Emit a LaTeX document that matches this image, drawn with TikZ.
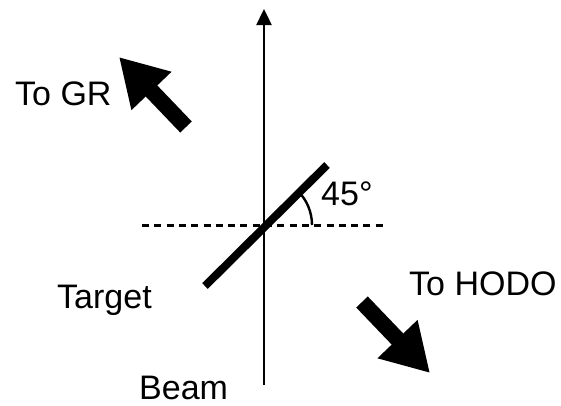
\documentclass[tikz,border=0pt]{standalone}
\usepackage{fontspec}
\setmainfont{Liberation Sans}
\usetikzlibrary{arrows.meta}
\begin{document}
\begin{tikzpicture}[x=1pt,y=-1pt,
  lbl/.style={anchor=base west,inner sep=0pt,font=\fontsize{34}{40}\selectfont},
  bigarrow/.style={line width=16pt,-{Triangle[width=52pt,length=47pt]}},
  thin/.style={line width=2.4pt}]
\useasboundingbox (0,0) rectangle (561,405);
% beam axis
\coordinate (beamS) at (264,385);
\coordinate (beamE) at (264,9);
\draw[thin,-{Triangle[width=15pt,length=16pt]}] (beamS) -- (beamE);
% dashed horizontal
\coordinate (dL) at (142,225);
\coordinate (dR) at (384,225);
\draw[line width=3pt,dash pattern=on 7pt off 5.3pt] (dL) -- (dR);
% target bar
\coordinate (tA) at (205,286);
\coordinate (tB) at (327,165);
\draw[line width=8pt] (tA) -- (tB);
% angle arc
\coordinate (arcS) at (312,225);
\draw[thin] (arcS) arc[start angle=0,end angle=45,radius=48pt];
% big arrows
\coordinate (grT) at (186,127);
\coordinate (grH) at (119,57);
\draw[bigarrow] (grT) -- (grH);
\coordinate (hoT) at (362,302);
\coordinate (hoH) at (430,373);
\draw[bigarrow] (hoT) -- (hoH);
% labels
\node[lbl] (togr) at (15,105) {To GR};
\node[lbl] (target) at (57,308) {Target};
\node[lbl] (beam) at (139,399) {Beam};
\node[lbl] (tohodo) at (409,295) {To HODO};
\node[lbl] (ang) at (321,205) {45°};
\end{tikzpicture}
\end{document}
